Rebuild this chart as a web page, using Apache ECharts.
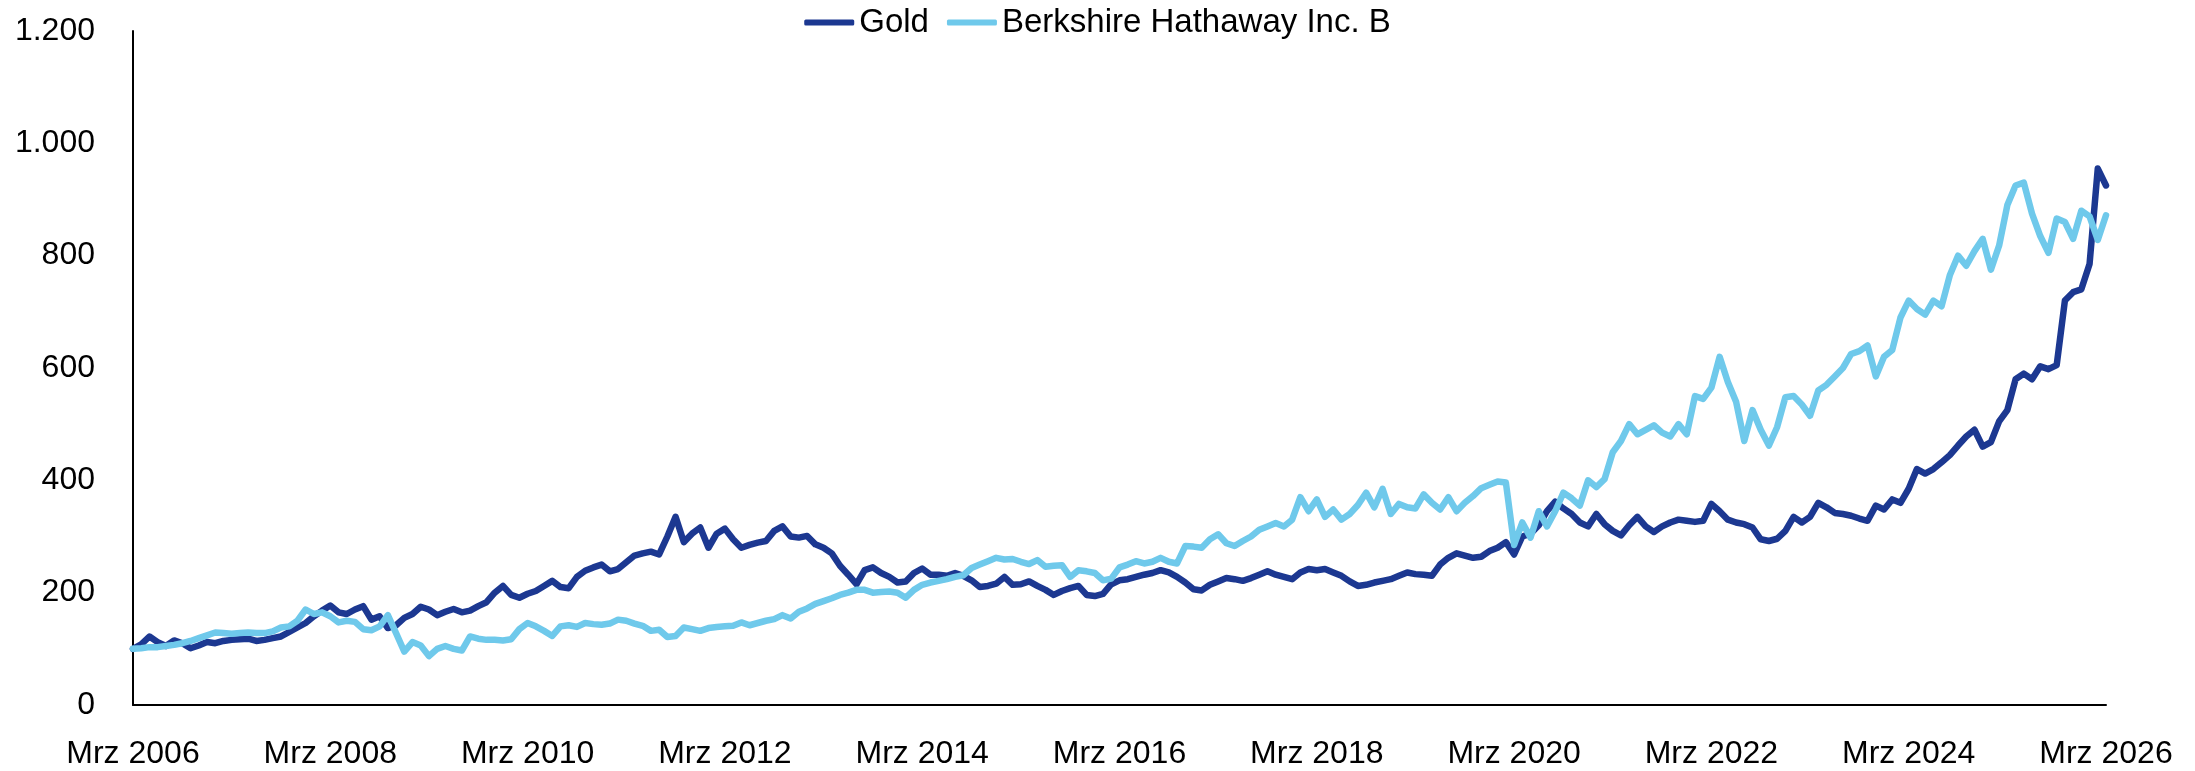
<!DOCTYPE html>
<html>
<head>
<meta charset="utf-8">
<script src="https://cdn.jsdelivr.net/npm/echarts@6/dist/echarts.min.js"></script>
<style>
  html, body { margin: 0; padding: 0; background: #fff; }
  #chart { width: 2195px; height: 771px; }
</style>
</head>
<body>
<div id="chart"></div>
<script>
// Monthly points, Mar 2006 .. Mar 2026, indexed to 100
const monthNames = ['Jan', 'Feb', 'Mrz', 'Apr', 'Mai', 'Jun', 'Jul', 'Aug', 'Sep', 'Okt', 'Nov', 'Dez'];
const startYear = 2006;
const startMonth = 2; // Mrz

const gold = [
    100, 108, 122, 112, 105, 115, 110, 101, 106, 112,
    110, 114, 116, 117, 118, 114, 116, 119, 122, 130,
    138, 146, 158, 168, 177, 165, 162, 170, 176, 152,
    158, 137, 142, 155, 162, 175, 170, 160, 166, 171,
    165, 168, 176, 183, 200, 212, 196, 191, 198, 203,
    212, 221, 210, 208, 228, 239, 245, 250, 238, 242,
    254, 266, 270, 273, 268, 300, 335, 290, 305, 316,
    280, 305, 314, 295, 280, 285, 289, 292, 310, 318,
    300, 298, 301, 286, 280, 270, 248, 232, 215, 240,
    245, 235, 228, 218, 220, 235, 243, 232, 232, 230,
    235, 230, 222, 210, 212, 216, 228, 214, 215, 220,
    212, 205, 196, 203, 208, 212, 196, 194, 198, 215,
    222, 224, 228, 232, 235, 240, 236, 228, 218, 206,
    204, 214, 220, 226, 224, 221, 226, 232, 238, 232,
    228, 224, 236, 242, 240, 242, 236, 230, 220, 212,
    214, 218, 221, 224, 230, 236, 233, 232, 230, 250,
    262, 270, 266, 262, 264, 274, 280, 290, 268, 300,
    305, 320, 345, 362, 350, 340, 325, 318, 340, 322,
    310, 302, 320, 335, 318, 308, 318, 325, 330, 328,
    326, 328, 358, 345, 330, 325, 322, 316, 295, 292,
    296, 310, 335, 325, 335, 360, 352, 342, 340, 337,
    332, 328, 355, 348, 366, 360, 385, 420, 412, 420,
    432, 445, 462, 478, 490, 460, 468, 505, 525, 580,
    590, 580, 603, 598, 605, 720, 735, 740, 785, 955,
    925
];

const berkshire = [
    100, 101, 103, 103, 105, 107, 110, 114, 119, 124,
    129, 128, 127, 128, 129, 128, 128, 131, 138, 140,
    150, 170, 162, 165, 158, 147, 150, 148, 135, 133,
    140, 160, 128, 95, 112, 106, 87, 100, 105, 100,
    97, 122, 118, 116, 116, 115, 117, 135, 146, 140,
    132, 123, 140, 142, 139, 146, 144, 143, 145, 152,
    150, 145, 141, 132, 134, 121, 123, 138, 135, 132,
    137, 139, 140, 141, 147, 142, 146, 150, 153, 160,
    154, 166, 172, 180, 185, 190, 196, 200, 205, 205,
    200, 201, 202, 200, 191, 205, 214, 218, 221, 224,
    228, 231, 244, 250, 256, 262, 259, 260, 255, 251,
    258, 246, 248, 249, 228, 240, 238, 235, 222, 225,
    245, 250, 256, 252, 255, 262, 255, 252, 283, 282,
    280, 295, 304, 288, 283, 292, 300, 312, 318, 324,
    318, 330, 370, 345, 366, 335, 348, 330, 340, 356,
    378, 352, 385, 340, 358, 352, 350, 375, 360, 348,
    370, 345, 360, 372, 386, 392, 398, 396, 285, 325,
    298, 345, 318, 345, 378, 368, 355, 400, 388, 402,
    450, 470, 500, 482, 490, 498, 485, 478, 500, 482,
    550, 545, 565, 620, 575, 540, 470, 525, 490, 462,
    495, 548, 550, 535, 515, 560, 570, 585, 600, 625,
    630, 640, 585, 620, 632, 690, 720, 705, 695, 720,
    710, 765, 800, 782, 808, 830, 775, 818, 890, 925,
    930, 875, 835, 805, 866, 860, 830, 880, 870, 828,
    872
];

const yTicks = { min: 0, max: 1200, step: 200 };

// category labels like "Mrz 2006"
const categories = [];
for (let i = 0; i < gold.length; i++) {
    const m = startMonth + i;
    categories.push(monthNames[m % 12] + ' ' + (startYear + Math.floor(m / 12)));
}

const fontFamily = "'Liberation Sans', Arial, sans-serif";

function formatDE(v) {
    return String(v).replace(/\B(?=(\d{3})+(?!\d))/g, '.');
}

const chart = echarts.init(document.getElementById('chart'), null, { renderer: 'canvas' });

chart.setOption({
    animation: false,
    backgroundColor: '#ffffff',
    textStyle: { fontFamily: fontFamily, color: '#000' },
    legend: {
        top: 1,
        left: 'center',
        icon: 'roundRect',
        itemWidth: 50,
        itemHeight: 6,
        itemGap: 18,
        textStyle: { fontSize: 33, color: '#000', fontFamily: fontFamily },
        data: ['Gold', 'Berkshire Hathaway Inc. B']
    },
    grid: {
        left: 133,
        right: 89,
        top: 31,
        bottom: 66,
        containLabel: false
    },
    xAxis: {
        type: 'category',
        data: categories,
        boundaryGap: false,
        axisLine: { show: true, lineStyle: { color: '#000', width: 2 } },
        axisTick: { show: false },
        splitLine: { show: false },
        axisLabel: {
            interval: 23,
            margin: 33,
            fontSize: 32,
            color: '#000',
            fontFamily: fontFamily,
            showMaxLabel: true
        }
    },
    yAxis: {
        type: 'value',
        min: yTicks.min,
        max: yTicks.max,
        interval: yTicks.step,
        axisLine: { show: true, lineStyle: { color: '#000', width: 2 } },
        axisTick: { show: false },
        splitLine: { show: false },
        axisLabel: {
            margin: 38,
            fontSize: 32,
            color: '#000',
            fontFamily: fontFamily,
            formatter: formatDE
        }
    },
    series: [
        {
            name: 'Gold',
            type: 'line',
            data: gold,
            showSymbol: false,
            symbol: 'none',
            lineStyle: { color: '#1C3891', width: 6.5, cap: 'round', join: 'round' },
            itemStyle: { color: '#1C3891' }
        },
        {
            name: 'Berkshire Hathaway Inc. B',
            type: 'line',
            data: berkshire,
            showSymbol: false,
            symbol: 'none',
            lineStyle: { color: '#6FC9EB', width: 6.5, cap: 'round', join: 'round' },
            itemStyle: { color: '#6FC9EB' }
        }
    ]
});
</script>
</body>
</html>
